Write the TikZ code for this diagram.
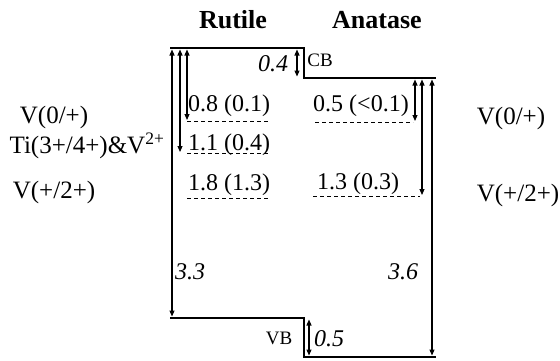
\documentclass[tikz,border=0pt]{standalone}
\usepackage{fontspec}
\setmainfont{Liberation Serif}
\usetikzlibrary{arrows.meta}
\tikzset{
  bandedge/.style={draw=black,line width=2.8pt,line join=miter},
  gaparrow/.style={draw=black,line width=1.1pt,
    {Triangle[length=6pt,width=5pt]}-{Triangle[length=6pt,width=5pt]}},
  levelline/.style={draw=black,line width=0.9pt,dash pattern=on 4pt off 3pt},
  levellabel/.style={font=\fontsize{24}{26}\selectfont,inner sep=0pt},
  statelabel/.style={font=\fontsize{25}{27}\selectfont,inner sep=0pt},
  gaplabel/.style={font=\fontsize{24}{26}\selectfont\itshape,inner sep=0pt},
  bandlabel/.style={font=\fontsize{19}{21}\selectfont,inner sep=0pt},
  phasetitle/.style={font=\fontsize{26}{28}\selectfont\bfseries,inner sep=0pt},
}
\begin{document}
\begin{tikzpicture}[x=1pt,y=-1pt]
  \path[use as bounding box] (0,0) rectangle (560,360);
  % titles
  \node[phasetitle] (rutile) at (233,20) {Rutile};
  \node[phasetitle] (anatase) at (377,20) {Anatase};
  % band edges
  \coordinate (rcbL) at (170,48);  \coordinate (rcbR) at (304,48);
  \coordinate (acbL) at (304,78);  \coordinate (acbR) at (436,78);
  \coordinate (rvbL) at (170,318); \coordinate (rvbR) at (304,318);
  \coordinate (avbL) at (304,357); \coordinate (avbR) at (436,357);
  \draw[bandedge] (rcbL) -- (rcbR) -- (acbL) -- (acbR);
  \draw[bandedge] (rvbL) -- (rvbR) -- (avbL) -- (avbR);
  \node[bandlabel] (cb) at (320,60) {CB};
  \node[bandlabel] (vb) at (279,338) {VB};
  % defect levels
  \foreach \name/\xa/\xb/\y/\tx/\ty/\txt in {
      r1/187/270/121/229/106/{0.8 (0.1)},
      r2/187/270/153/229/145/{1.1 (0.4)},
      r3/187/270/198/229/185/{1.8 (1.3)},
      a1/315/413/122/361/106/{0.5 (<0.1)},
      a2/313/420/196/358/184/{1.3 (0.3)}}
    {\coordinate (\name a) at (\xa,\y);
     \coordinate (\name b) at (\xb,\y);
     \draw[levelline] (\name a) -- (\name b);
     \node[levellabel] (\name t) at (\tx,\ty) {\txt};}
  % arrows
  \coordinate (gapRtop) at (172,49.5);  \coordinate (gapRbot) at (172,316.5);
  \coordinate (r2top) at (180,49.5);    \coordinate (r2bot) at (180,152);
  \coordinate (r1top) at (187,49.5);    \coordinate (r1bot) at (187,120);
  \coordinate (cbofftop) at (297,49.5); \coordinate (cboffbot) at (297,76.5);
  \coordinate (a1top) at (415,79.5);    \coordinate (a1bot) at (415,121);
  \coordinate (a2top) at (422,79.5);    \coordinate (a2bot) at (422,195);
  \coordinate (gapAtop) at (432,79.5);  \coordinate (gapAbot) at (432,355.5);
  \coordinate (vbofftop) at (309,319.5); \coordinate (vboffbot) at (309,355.5);
  \foreach \p in {gapR,r2,r1,cboff,a1,a2,gapA,vboff}
    {\draw[gaparrow] (\p top) -- (\p bot);}
  \node[gaplabel] (gR) at (190,272) {3.3};
  \node[gaplabel] (gA) at (403,272) {3.6};
  \node[gaplabel] (cbOff) at (273,64) {0.4};
  \node[gaplabel] (vbOff) at (329,339) {0.5};
  % dopant states
  \node[statelabel] (lV0) at (54,117) {V(0/+)};
  \node[statelabel] (lTi) at (87,146) {Ti(3+/4+)\&V\textsuperscript{2+}};
  \node[statelabel] (lV2) at (54,192) {V(+/2+)};
  \node[statelabel] (rV0) at (511,118) {V(0/+)};
  \node[statelabel] (rV2) at (518,195) {V(+/2+)};
\end{tikzpicture}
\end{document}
